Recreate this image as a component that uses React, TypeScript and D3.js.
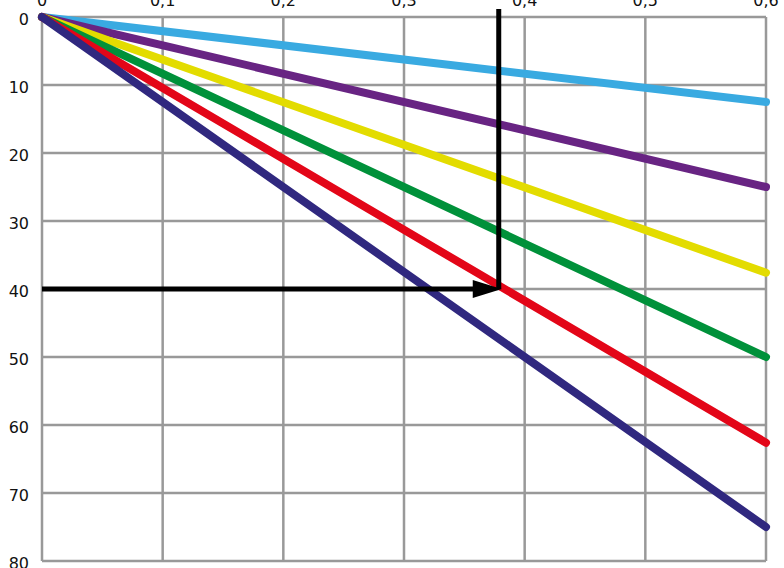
import React from 'react';
import * as d3 from 'd3';

// x ticks (top axis) and y ticks (left axis, increasing downward)
const xTicks = [0, 0.1, 0.2, 0.3, 0.4, 0.5, 0.6];
const yTicks = [0, 10, 20, 30, 40, 50, 60, 70, 80];

// each line runs from the origin to its value at x = 0.6
const lineNames = ['blue', 'purple', 'yellow', 'green', 'red', 'navy'];
const lineColors = ['#39aae1', '#682483', '#e3dc00', '#00913a', '#e30618', '#30287f'];
const endValues = [12.5, 25, 37.6, 50, 62.6, 75];

// reading arrow
const arrowX = 0.381;
const arrowY = 40;

const W = 784;
const H = 568;
const margin = { top: 17, right: 18, bottom: 7, left: 42 };

export default function App() {
  const x = d3.scaleLinear().domain([0, 0.6]).range([margin.left, W - margin.right]);
  const y = d3.scaleLinear().domain([0, 80]).range([margin.top, H - margin.bottom]);
  const fmt = (v: number) => (v === 0 ? '0' : d3.format('.1f')(v).replace('.', ','));
  const line = d3.line<[number, number]>().x(d => x(d[0])).y(d => y(d[1]));

  const ax = x(arrowX);
  const ay = y(arrowY);
  const headLen = 29;
  const headHalf = 9;

  return (
    <svg width={W} height={H} style={{ position: 'absolute', left: 0, top: 0 }}
      fontFamily="'DejaVu Sans', sans-serif">
      <g stroke="#999" strokeWidth={2.5} fill="none">
        {xTicks.map(t => (
          <line key={'gx' + t} x1={x(t)} x2={x(t)} y1={y(0)} y2={y(80)} />
        ))}
        {yTicks.map(t => (
          <line key={'gy' + t} x1={x(0)} x2={x(0.6)} y1={y(t)} y2={y(t)} />
        ))}
      </g>
      <g fontSize={16} fill="#111">
        {xTicks.map(t => (
          <text key={'tx' + t} x={x(t)} y={6} textAnchor="middle">{fmt(t)}</text>
        ))}
        {yTicks.map(t => (
          <text key={'ty' + t} x={29} y={y(t) + 8} textAnchor="end">{t}</text>
        ))}
      </g>
      <g fill="none" strokeWidth={8} strokeLinecap="round">
        {lineNames.map((n, i) => (
          <path key={n} d={line([[0, 0], [0.6, endValues[i]]]) || ''} stroke={lineColors[i]} />
        ))}
      </g>
      <g stroke="#000" strokeWidth={5}>
        <line x1={ax - 3} x2={ax - 3} y1={9} y2={ay} />
        <line x1={x(0)} x2={ax - headLen + 2} y1={ay} y2={ay} />
      </g>
      <path
        d={`M${ax},${ay} L${ax - headLen},${ay - headHalf} L${ax - headLen},${ay + headHalf} Z`}
        fill="#000"
      />
    </svg>
  );
}
